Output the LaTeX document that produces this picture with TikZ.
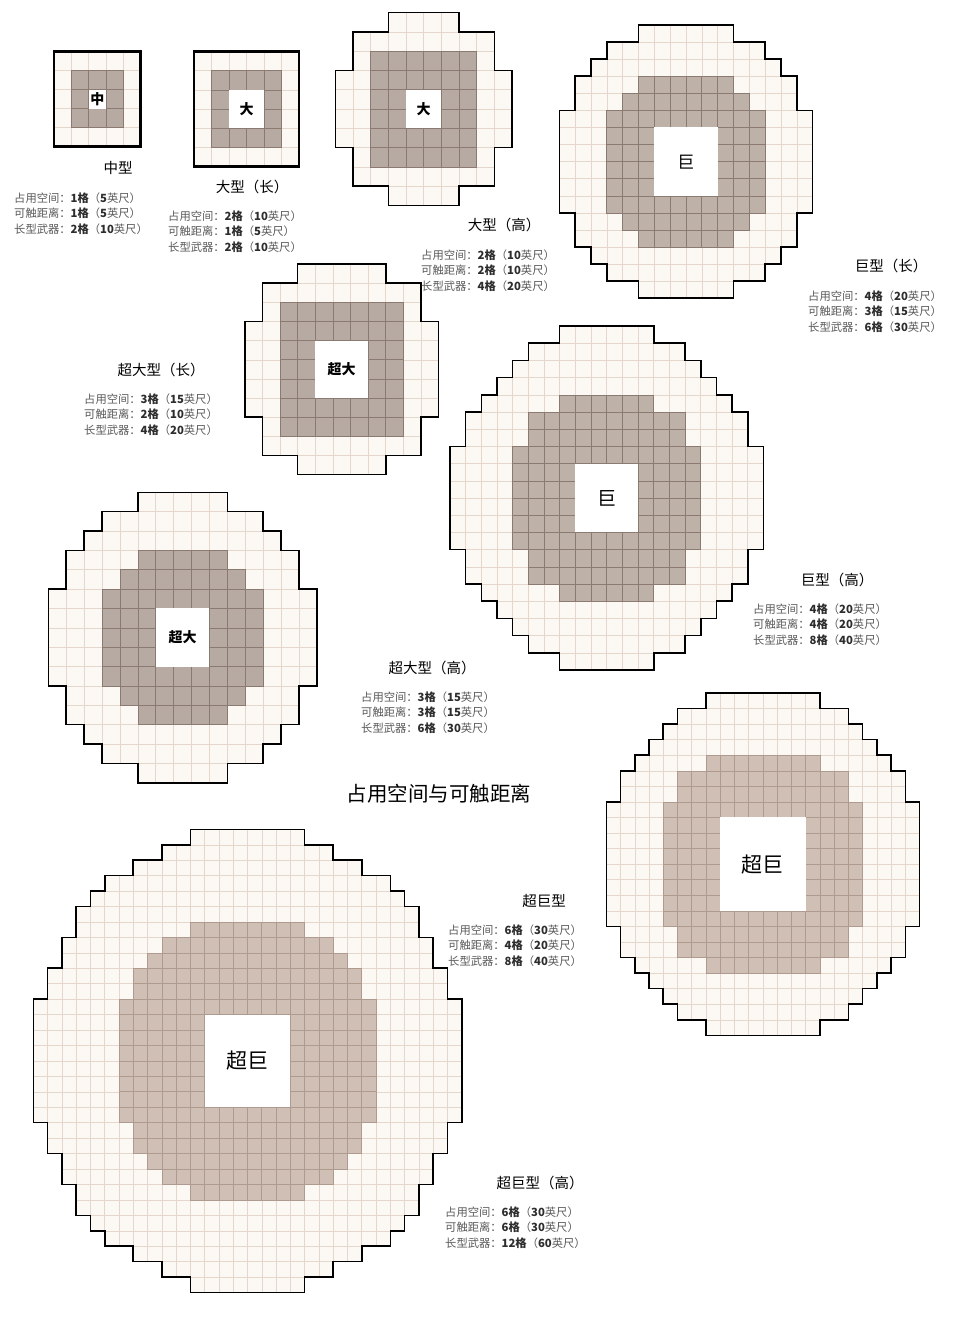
\documentclass[tikz,border=0pt]{standalone}
\usepackage{fontspec}
\newfontfamily\cjk{Noto Sans CJK SC}
\definecolor{outerfill}{RGB}{252,249,244}
\definecolor{outerline}{RGB}{230,215,205}
\definecolor{shadeA}{RGB}{182,170,163}
\definecolor{shadeB}{RGB}{190,177,168}
\definecolor{shadeC}{RGB}{207,191,180}
\definecolor{shadelineA}{RGB}{138,122,114}
\definecolor{shadelineC}{RGB}{174,154,142}
\definecolor{statgray}{RGB}{90,90,90}
\definecolor{statdark}{RGB}{45,45,45}
\tikzset{
  cellline/.style={draw=outerline, line width=0.5pt},
  bnd/.style={draw=black, line width=1.6pt, line join=miter},
  boxbnd/.style={draw=black, line width=2.4pt, line join=miter},
  caption/.style={font=\cjk\fontsize{14.5}{16}\selectfont, inner sep=0pt},
  stat/.style={anchor=west, inner sep=0pt, font=\cjk\fontsize{11.3}{12}\selectfont, text=statgray},
  boldlbl/.style={font=\cjk\bfseries\fontsize{14}{16}\selectfont, inner sep=0pt},
  reglbl/.style={font=\cjk\fontsize{#1}{#1}\selectfont, inner sep=0pt},
}
% #1 N, #2 list r/a
\newcommand{\outerpart}[2]{%
  \foreach \r/\a in {#2}{
    \pgfmathtruncatemacro{\b}{#1-1-\a}
    \fill[outerfill] (\a,\r) rectangle (\b+1,\r+1);
  }
  \foreach \r/\a in {#2}{
    \pgfmathtruncatemacro{\b}{#1-1-\a}
    \foreach \c in {\a,...,\b} \draw[cellline] (\c,\r) rectangle ++(1,1);
  }
}
% #1 N, #2 list, #3 fill colour, #4 line colour
\newcommand{\shadepart}[4]{%
  \foreach \r/\a in {#2}{
    \pgfmathtruncatemacro{\b}{#1-1-\a}
    \fill[#3] (\a,\r) rectangle (\b+1,\r+1);
  }
  \foreach \r/\a in {#2}{
    \pgfmathtruncatemacro{\b}{#1-1-\a}
    \foreach \c in {\a,...,\b} \draw[draw=#4, line width=0.6pt] (\c,\r) rectangle ++(1,1);
  }
}
% #1 N, #2 list, #3 style
\newcommand{\outlinepart}[3]{%
  \draw[#3] ({#1/2},0) \foreach \r/\a in {#2}{ -- (\a,\r) -- (\a,\r+1) }
    \foreach \r/\a in {#2}{ -- ({#1-\a},{#1-\r}) -- ({#1-\a},{#1-\r-1}) } -- cycle;
}
% name, x, y, v1, f1, v2, f2, v3, f3
\newcommand{\statblock}[9]{%
  \node[stat] (#1a) at (#2,#3) {占用空间：{\color{statdark}\bfseries #4格}（{\color{statdark}\bfseries #5}英尺）};
  \node[stat] (#1b) at (#2,#3+15.6) {可触距离：{\color{statdark}\bfseries #6格}（{\color{statdark}\bfseries #7}英尺）};
  \node[stat] (#1c) at (#2,#3+31.2) {长型武器：{\color{statdark}\bfseries #8格}（{\color{statdark}\bfseries #9}英尺）};
}
\begin{document}
\begin{tikzpicture}[x=1pt,y=-1pt]
\useasboundingbox (0,0) rectangle (954,1333);
\fill[white] (0,0) rectangle (954,1333);

% ---------- Grid 1: medium ----------
\begin{scope}[shift={(54,51.5)}, x=17.3pt, y=-19pt]
  \outerpart{5}{0/0,1/0,2/0,3/0,4/0}
  \shadepart{5}{1/1,2/1,3/1}{shadeA}{shadelineA}
  \fill[white] (2,2) rectangle (3,3);
  \node[boldlbl] (lblA) at (2.5,2.5) {中};
  \outlinepart{5}{0/0,1/0,2/0,3/0,4/0}{boxbnd}
\end{scope}

% ---------- Grid 2: large long ----------
\begin{scope}[shift={(194,51.5)}, x=17.5pt, y=-19.17pt]
  \outerpart{6}{0/0,1/0,2/0,3/0,4/0,5/0}
  \shadepart{6}{1/1,2/1,3/1,4/1}{shadeA}{shadelineA}
  \fill[white] (2,2) rectangle (4,4);
  \node[boldlbl] (lblB) at (3,3) {大};
  \outlinepart{6}{0/0,1/0,2/0,3/0,4/0,5/0}{boxbnd}
\end{scope}

% ---------- Grid 3: large tall ----------
\begin{scope}[shift={(335.3,12.5)}, x=17.67pt, y=-19.3pt]
  \outerpart{10}{0/3,1/1,2/1,3/0,4/0,5/0,6/0,7/1,8/1,9/3}
  \shadepart{10}{2/2,3/2,4/2,5/2,6/2,7/2}{shadeA}{shadelineA}
  \fill[white] (4,4) rectangle (6,6);
  \node[boldlbl] (lblC) at (5,5) {大};
  \outlinepart{10}{0/3,1/1,2/1,3/0,4/0,5/0,6/0,7/1,8/1,9/3}{bnd}
\end{scope}

% ---------- Grid 4: huge long ----------
\begin{scope}[shift={(559.3,25)}, x=15.83pt, y=-17.08pt]
  \outerpart{16}{0/5,1/3,2/2,3/1,4/1,5/0,6/0,7/0,8/0,9/0,10/0,11/1,12/1,13/2,14/3,15/5}
  \shadepart{16}{3/5,4/4,5/3,6/3,7/3,8/3,9/3,10/3,11/4,12/5}{shadeB}{shadelineA}
  \fill[white] (6,6) rectangle (10,10);
  \node[reglbl=17] (lblD) at (8,8) {巨};
  \outlinepart{16}{0/5,1/3,2/2,3/1,4/1,5/0,6/0,7/0,8/0,9/0,10/0,11/1,12/1,13/2,14/3,15/5}{bnd}
\end{scope}

% ---------- Grid 5: very large long ----------
\begin{scope}[shift={(244.7,264)}, x=17.63pt, y=-19.15pt]
  \outerpart{11}{0/3,1/1,2/1,3/0,4/0,5/0,6/0,7/0,8/1,9/1,10/3}
  \shadepart{11}{2/2,3/2,4/2,5/2,6/2,7/2,8/2}{shadeA}{shadelineA}
  \fill[white] (4,4) rectangle (7,7);
  \node[boldlbl] (lblE) at (5.5,5.5) {超大};
  \outlinepart{11}{0/3,1/1,2/1,3/0,4/0,5/0,6/0,7/0,8/1,9/1,10/3}{bnd}
\end{scope}

% ---------- Grid 6: huge tall ----------
\begin{scope}[shift={(450,326)}, x=15.67pt, y=-17.2pt]
  \outerpart{20}{0/7,1/5,2/4,3/3,4/2,5/1,6/1,7/0,8/0,9/0,10/0,11/0,12/0,13/1,14/1,15/2,16/3,17/4,18/5,19/7}
  \shadepart{20}{4/7,5/5,6/5,7/4,8/4,9/4,10/4,11/4,12/4,13/5,14/5,15/7}{shadeB}{shadelineA}
  \fill[white] (8,8) rectangle (12,12);
  \node[reglbl=19] (lblF) at (10,10) {巨};
  \outlinepart{20}{0/7,1/5,2/4,3/3,4/2,5/1,6/1,7/0,8/0,9/0,10/0,11/0,12/0,13/1,14/1,15/2,16/3,17/4,18/5,19/7}{bnd}
\end{scope}

% ---------- Grid 7: very large tall ----------
\begin{scope}[shift={(48.3,492.3)}, x=17.9pt, y=-19.36pt]
  \outerpart{15}{0/5,1/3,2/2,3/1,4/1,5/0,6/0,7/0,8/0,9/0,10/1,11/1,12/2,13/3,14/5}
  \shadepart{15}{3/5,4/4,5/3,6/3,7/3,8/3,9/3,10/4,11/5}{shadeA}{shadelineA}
  \fill[white] (6,6) rectangle (9,9);
  \node[boldlbl] (lblG) at (7.5,7.5) {超大};
  \outlinepart{15}{0/5,1/3,2/2,3/1,4/1,5/0,6/0,7/0,8/0,9/0,10/1,11/1,12/2,13/3,14/5}{bnd}
\end{scope}

% ---------- Grid 8: gargantuan ----------
\begin{scope}[shift={(606.3,693)}, x=14.24pt, y=-15.56pt]
  \outerpart{22}{0/7,1/5,2/4,3/3,4/2,5/1,6/1,7/0,8/0,9/0,10/0,11/0,12/0,13/0,14/0,15/1,16/1,17/2,18/3,19/4,20/5,21/7}
  \shadepart{22}{4/7,5/5,6/5,7/4,8/4,9/4,10/4,11/4,12/4,13/4,14/4,15/5,16/5,17/7}{shadeC}{shadelineC}
  \fill[white] (8,8) rectangle (14,14);
  \node[reglbl=21] (lblH) at (11,11) {超巨};
  \outlinepart{22}{0/7,1/5,2/4,3/3,4/2,5/1,6/1,7/0,8/0,9/0,10/0,11/0,12/0,13/0,14/0,15/1,16/1,17/2,18/3,19/4,20/5,21/7}{bnd}
\end{scope}

% ---------- Grid 9: gargantuan tall ----------
\begin{scope}[shift={(33.3,829.3)}, x=14.28pt, y=-15.44pt]
  \outerpart{30}{0/11,1/9,2/7,3/5,4/4,5/3,6/3,7/2,8/2,9/1,10/1,11/0,12/0,13/0,14/0,15/0,16/0,17/0,18/0,19/1,20/1,21/2,22/2,23/3,24/3,25/4,26/5,27/7,28/9,29/11}
  \shadepart{30}{6/11,7/9,8/8,9/7,10/7,11/6,12/6,13/6,14/6,15/6,16/6,17/6,18/6,19/7,20/7,21/8,22/9,23/11}{shadeC}{shadelineC}
  \fill[white] (12,12) rectangle (18,18);
  \node[reglbl=21] (lblI) at (15,15) {超巨};
  \outlinepart{30}{0/11,1/9,2/7,3/5,4/4,5/3,6/3,7/2,8/2,9/1,10/1,11/0,12/0,13/0,14/0,15/0,16/0,17/0,18/0,19/1,20/1,21/2,22/2,23/3,24/3,25/4,26/5,27/7,28/9,29/11}{bnd}
\end{scope}

% ---------- captions and stats ----------
\node[caption] (capA) at (118,168) {中型};
\statblock{stA}{14}{198}{1}{5}{1}{5}{2}{10}

\node[caption] (capB) at (252,187) {大型（长）};
\statblock{stB}{168}{216}{2}{10}{1}{5}{2}{10}

\node[caption] (capC) at (504,225) {大型（高）};
\statblock{stC}{421}{255}{2}{10}{2}{10}{4}{20}

\node[caption] (capD) at (891,266) {巨型（长）};
\statblock{stD}{808}{296}{4}{20}{3}{15}{6}{30}

\node[caption] (capE) at (161,370) {超大型（长）};
\statblock{stE}{84}{399}{3}{15}{2}{10}{4}{20}

\node[caption] (capF) at (837,580) {巨型（高）};
\statblock{stF}{753}{609}{4}{20}{4}{20}{8}{40}

\node[caption] (capG) at (432,668) {超大型（高）};
\statblock{stG}{361}{697}{3}{15}{3}{15}{6}{30}

\node[inner sep=0pt, font=\cjk\fontsize{20.5}{22}\selectfont] (title) at (439,794) {占用空间与可触距离};

\node[caption] (capH) at (544,901) {超巨型};
\statblock{stH}{448}{930}{6}{30}{4}{20}{8}{40}

\node[caption] (capI) at (540,1183) {超巨型（高）};
\statblock{stI}{445}{1212}{6}{30}{6}{30}{12}{60}
\end{tikzpicture}
\end{document}
